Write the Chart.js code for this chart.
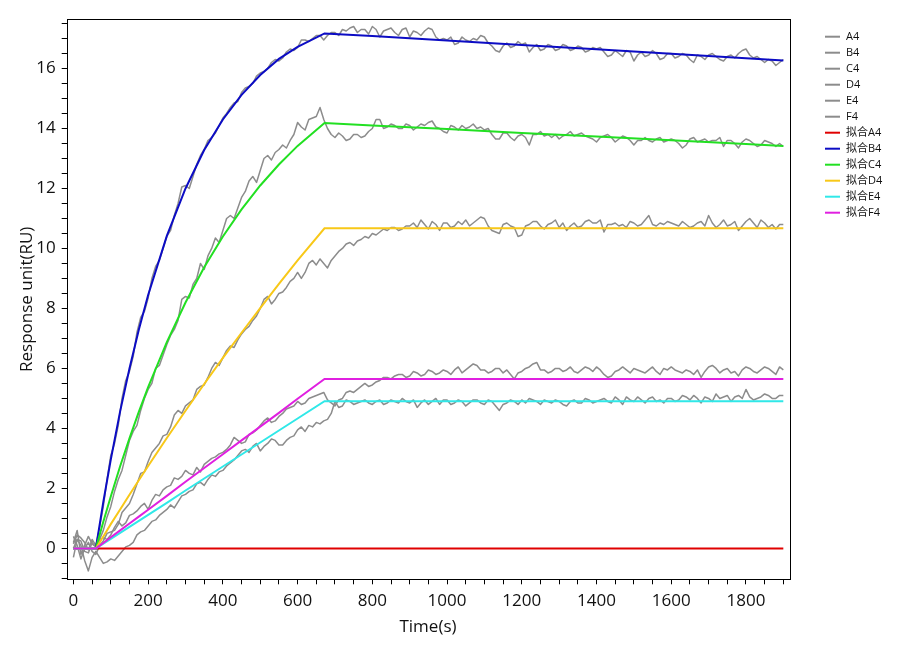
<!DOCTYPE html>
<html>
<head>
<meta charset="utf-8">
<script src="https://cdn.jsdelivr.net/npm/chart.js@4.4.1/dist/chart.umd.min.js"></script>
<style>
  html, body { margin: 0; padding: 0; background: #fff; }
  #wrap { width: 900px; height: 650px; }
</style>
</head>
<body>
<div id="wrap"><canvas id="sensorChart" width="900" height="650"></canvas></div>
<script>
// sampling times of the recorded curves (s), one row per 100 s
var timeData = [0, 10, 20, 30, 40, 50, 60, 70, 80, 90,
  100, 110, 120, 130, 140, 150, 160, 170, 180, 190,
  200, 210, 220, 230, 240, 250, 260, 270, 280, 290,
  300, 310, 320, 330, 340, 350, 360, 370, 380, 390,
  400, 410, 420, 430, 440, 450, 460, 470, 480, 490,
  500, 510, 520, 530, 540, 550, 560, 570, 580, 590,
  600, 610, 620, 630, 640, 650, 660, 670, 680, 690,
  700, 710, 720, 730, 740, 750, 760, 770, 780, 790,
  800, 810, 820, 830, 840, 850, 860, 870, 880, 890,
  900, 910, 920, 930, 940, 950, 960, 970, 980, 990,
  1000, 1010, 1020, 1030, 1040, 1050, 1060, 1070, 1080, 1090,
  1100, 1110, 1120, 1130, 1140, 1150, 1160, 1170, 1180, 1190,
  1200, 1210, 1220, 1230, 1240, 1250, 1260, 1270, 1280, 1290,
  1300, 1310, 1320, 1330, 1340, 1350, 1360, 1370, 1380, 1390,
  1400, 1410, 1420, 1430, 1440, 1450, 1460, 1470, 1480, 1490,
  1500, 1510, 1520, 1530, 1540, 1550, 1560, 1570, 1580, 1590,
  1600, 1610, 1620, 1630, 1640, 1650, 1660, 1670, 1680, 1690,
  1700, 1710, 1720, 1730, 1740, 1750, 1760, 1770, 1780, 1790,
  1800, 1810, 1820, 1830, 1840, 1850, 1860, 1870, 1880, 1890,
  1900];

// recorded responses (RU)
var seriesA4 = [];
var seriesB4 = [0.15, 0.45, 0.35, 0.2, -0.05, 0.3, 0.1, 0.7, 1.4, 2.3,
  3.1, 3.5, 4.1, 5.0, 5.6, 5.9, 6.4, 7.2, 7.7, 7.9,
  8.35, 9.0, 9.4, 9.6, 10.0, 10.4, 10.6, 11.1, 11.5, 12.05,
  12.1, 12.0, 12.4, 12.8, 13.1, 13.3, 13.6, 13.7, 13.85, 14.1,
  14.35, 14.5, 14.7, 14.85, 14.9, 15.2, 15.35, 15.4, 15.5, 15.75,
  15.85, 15.9, 16.0, 16.2, 16.3, 16.25, 16.35, 16.55, 16.65, 16.6,
  16.7, 16.95, 16.95, 16.9, 17.0, 17.1, 17.1, 16.95, 17.1, 17.2,
  17.2, 17.1, 17.3, 17.25, 17.35, 17.4, 17.2, 17.3, 17.3, 17.15,
  17.4, 17.3, 17.05, 17.25, 17.3, 17.35, 17.2, 17.1, 17.3, 17.35,
  17.05, 17.25, 17.2, 17.1, 17.25, 17.35, 17.3, 17.05, 16.95, 17.0,
  16.95, 17.05, 16.8, 16.85, 17.05, 16.95, 16.9, 17.0, 16.95, 17.1,
  17.05, 16.85, 16.75, 16.6, 16.55, 16.75, 16.85, 16.7, 16.75, 16.9,
  16.8, 16.85, 16.55, 16.7, 16.8, 16.6, 16.65, 16.8, 16.75, 16.6,
  16.65, 16.8, 16.75, 16.6, 16.65, 16.75, 16.7, 16.55, 16.6, 16.7,
  16.65, 16.7, 16.55, 16.4, 16.45, 16.6, 16.5, 16.4, 16.6, 16.55,
  16.25, 16.45, 16.55, 16.4, 16.45, 16.6, 16.5, 16.3, 16.35, 16.5,
  16.5, 16.35, 16.4, 16.5, 16.45, 16.3, 16.2, 16.45, 16.4, 16.3,
  16.45, 16.5, 16.4, 16.3, 16.25, 16.4, 16.45, 16.35, 16.5, 16.6,
  16.65, 16.45, 16.35, 16.4, 16.3, 16.2, 16.3, 16.25, 16.1, 16.2,
  16.3];
var seriesC4 = [0, 0.3, 0.25, -0.1, -0.15, 0.2, 0.05, 0.3, 0.6, 1.05,
  1.4, 1.9, 2.3, 2.6, 3.1, 3.6, 3.9, 4.1, 4.6, 5.0,
  5.3, 5.5, 6.0, 6.1, 6.45, 6.8, 7.1, 7.3, 7.6, 8.3,
  8.4, 8.35, 8.8, 9.0, 9.5, 9.3, 9.75, 10.0, 10.35, 10.2,
  10.6, 11.0, 11.1, 11.0, 11.35, 11.7, 11.9, 12.25, 12.4, 12.2,
  12.6, 13.0, 13.1, 12.95, 13.2, 13.3, 13.45, 13.35, 13.6, 13.8,
  14.2, 14.05, 13.95, 14.3, 14.35, 14.4, 14.7, 14.3, 14.0, 13.8,
  13.7, 13.85, 13.75, 13.6, 13.65, 13.8, 13.8, 13.7, 13.75, 13.9,
  14.0, 14.3, 14.3, 14.0, 14.05, 14.15, 14.1, 14.0, 14.0, 14.15,
  14.1, 13.95, 14.05, 14.15, 14.1, 14.2, 14.25, 14.05, 14.0, 13.9,
  13.85, 14.1, 14.05, 13.95, 14.1, 14.0, 14.05, 14.15, 14.0, 14.05,
  13.95, 14.0, 13.8, 13.65, 13.65, 13.85, 13.85, 13.7, 13.6, 13.75,
  13.8, 13.7, 13.45, 13.8, 13.8, 13.9, 13.75, 13.8, 13.7, 13.8,
  13.65, 13.75, 13.8, 13.9, 13.75, 13.8, 13.85, 13.75, 13.7, 13.65,
  13.55, 13.7, 13.75, 13.8, 13.7, 13.55, 13.65, 13.75, 13.7, 13.6,
  13.45, 13.6, 13.6, 13.7, 13.6, 13.55, 13.65, 13.7, 13.55, 13.6,
  13.65, 13.6, 13.5, 13.35, 13.45, 13.65, 13.7, 13.55, 13.6, 13.65,
  13.55, 13.6, 13.6, 13.7, 13.4, 13.6, 13.6, 13.5, 13.35, 13.55,
  13.65, 13.6, 13.5, 13.4, 13.45, 13.6, 13.55, 13.5, 13.4, 13.5,
  13.4];
var seriesD4 = [0.4, 0.1, -0.35, 0.0, 0.2, -0.1, -0.2, 0.1, 0.25, 0.5,
  0.55, 0.6, 0.8, 1.2, 1.35, 1.5, 1.8, 2.15, 2.5, 2.55,
  2.9, 3.2, 3.35, 3.5, 3.75, 3.8, 4.05, 4.45, 4.6, 4.5,
  4.75, 4.85, 4.95, 5.3, 5.4, 5.45, 5.7, 6.0, 6.2, 6.1,
  6.35, 6.6, 6.75, 6.7, 6.95, 7.15, 7.3, 7.4, 7.6, 7.75,
  8.0, 8.3, 8.4, 8.15, 8.3, 8.5, 8.55, 8.7, 8.9, 9.0,
  9.2, 9.0, 9.2, 9.5, 9.6, 9.45, 9.65, 9.5, 9.35, 9.6,
  9.75, 9.9, 10.0, 10.15, 10.2, 10.1, 10.25, 10.3, 10.4, 10.35,
  10.5, 10.45, 10.55, 10.65, 10.6, 10.7, 10.7, 10.6, 10.65, 10.75,
  10.75, 10.85, 10.7, 10.95, 10.8, 10.65, 10.9, 10.8, 10.6, 10.85,
  10.85, 10.7, 10.75, 10.9, 10.8, 10.95, 10.75, 10.85, 10.95, 11.05,
  11.0, 10.75, 10.6, 10.55, 10.5, 10.8, 10.85, 10.75, 10.7, 10.4,
  10.45, 10.75, 10.8, 10.9, 10.9, 10.75, 10.65, 10.8, 10.85, 10.95,
  10.7, 10.85, 10.6, 10.75, 10.85, 10.7, 10.75, 10.9, 10.95, 10.85,
  10.85, 10.95, 10.55, 10.8, 10.8, 10.85, 10.75, 10.8, 10.7, 10.9,
  10.85, 10.75, 10.8, 10.95, 11.1, 10.8, 10.75, 10.85, 10.8, 10.9,
  10.85, 10.8, 10.75, 10.9, 10.8, 10.7, 10.75, 10.85, 10.9, 10.75,
  11.1, 10.85, 10.7, 10.8, 10.95, 10.75, 10.8, 10.9, 10.6, 10.75,
  10.9, 11.0, 10.85, 10.7, 10.95, 10.85, 10.7, 10.8, 10.65, 10.8,
  10.8];
var seriesE4 = [-0.3, 0.3, 0.1, -0.4, -0.75, -0.3, -0.1, -0.3, -0.5, -0.45,
  -0.35, -0.4, -0.25, -0.1, 0.05, 0.1, 0.2, 0.45, 0.55, 0.6,
  0.75, 0.9, 0.95, 1.1, 1.2, 1.3, 1.45, 1.35, 1.55, 1.75,
  1.8, 1.9, 1.95, 2.15, 2.2, 2.1, 2.3, 2.45, 2.4, 2.55,
  2.6, 2.75, 2.85, 2.95, 3.1, 3.25, 3.3, 3.2, 3.4, 3.5,
  3.25, 3.4, 3.5, 3.65, 3.6, 3.45, 3.45, 3.6, 3.7, 3.75,
  3.95, 4.05, 3.9, 4.1, 4.05, 4.2, 4.15, 4.25, 4.3, 4.5,
  4.9, 4.7, 4.75, 4.95, 4.9, 4.8, 4.85, 4.9, 4.95, 4.85,
  4.8, 4.9, 4.95, 4.8, 4.85, 4.95, 4.9, 4.85, 5.0, 4.9,
  4.85, 4.95, 4.7, 4.85, 4.95, 4.8, 4.9, 5.0, 4.8, 4.95,
  4.95, 4.8, 4.85, 4.95, 4.9, 4.75, 4.85, 4.95, 4.95, 4.85,
  4.8, 4.95, 4.9, 4.75, 4.6, 4.8, 4.85, 4.95, 4.9, 4.8,
  4.95, 4.85, 5.0, 4.95, 4.9, 4.8, 4.95, 4.9, 4.85, 4.95,
  4.9, 4.8, 4.75, 4.9, 4.95, 4.85, 4.85, 5.0, 4.95, 4.85,
  4.9, 4.95, 5.0, 4.9, 4.85, 5.05, 4.95, 4.8, 5.05, 4.95,
  4.9, 5.05, 4.95, 4.85, 5.0, 5.05, 4.9, 4.95, 4.85, 5.0,
  5.0, 4.9, 4.95, 5.1, 5.05, 4.95, 5.1, 5.0, 4.85, 5.05,
  5.0, 4.9, 5.15, 5.0, 5.05, 5.1, 4.9, 5.05, 5.1, 5.0,
  5.3, 5.05, 4.95, 5.0, 5.05, 5.15, 5.1, 5.0, 5.0, 5.1,
  5.1];
var seriesF4 = [0.2, 0.6, -0.2, 0.1, 0.4, 0.15, 0.05, 0.3, 0.35, 0.3,
  0.45, 0.7, 0.9, 0.75, 0.85, 1.1, 1.15, 1.25, 1.4, 1.5,
  1.3, 1.6, 1.8, 1.75, 1.95, 2.05, 2.1, 2.35, 2.3, 2.4,
  2.6, 2.5, 2.45, 2.7, 2.55, 2.8, 2.9, 3.0, 3.05, 3.15,
  3.2, 3.3, 3.45, 3.7, 3.6, 3.5, 3.55, 3.8, 3.85, 3.95,
  4.1, 4.25, 4.35, 4.2, 4.25, 4.4, 4.5, 4.65, 4.7, 4.75,
  4.9, 4.8, 4.85, 5.0, 5.05, 5.1, 5.15, 5.2, 4.95, 4.85,
  4.75, 4.95, 5.0, 5.2, 5.25, 5.2, 5.3, 5.4, 5.5, 5.4,
  5.45, 5.55, 5.6, 5.7, 5.7, 5.65, 5.75, 5.8, 5.8, 5.7,
  5.75, 5.9, 5.85, 5.75, 5.8, 5.95, 5.9, 5.8, 5.85, 5.95,
  5.9, 5.8, 5.95, 6.05, 5.85, 5.95, 6.05, 6.15, 6.1, 5.95,
  5.95, 5.85, 5.9, 6.0, 6.0, 5.85, 5.95, 5.8, 5.65, 5.85,
  5.9, 6.0, 6.05, 6.15, 6.2, 5.95, 5.95, 5.85, 5.9, 6.0,
  6.0, 5.9, 5.95, 6.05, 5.9, 5.85, 5.95, 6.05, 6.0, 5.9,
  6.05, 5.95, 5.8, 5.7, 5.75, 5.9, 5.95, 6.05, 5.95, 5.85,
  6.0, 5.95, 5.9, 5.85, 5.95, 6.05, 5.9, 5.8, 6.0, 5.95,
  6.05, 5.95, 5.9, 5.85, 5.95, 5.9, 5.8, 5.95, 5.7, 5.9,
  6.05, 6.1, 6.0, 5.85, 5.95, 6.0, 5.85, 5.9, 5.75, 5.95,
  6.05, 6.0, 5.9, 5.85, 5.95, 6.05, 6.0, 5.9, 5.8, 6.05,
  5.95];

// fitted curves (拟合)
var fitTime = [0, 60, 80, 100, 125, 150, 175, 200, 250, 300, 350, 400, 450, 500, 550, 600, 672,
  800, 1000, 1200, 1400, 1600, 1800, 1900];
var fitA4 = [0, 0, 0, 0, 0, 0, 0, 0, 0, 0, 0, 0, 0, 0, 0, 0, 0,
  0, 0, 0, 0, 0, 0, 0];
var fitB4 = [0, 0, 1.55, 2.96, 4.57, 6.0, 7.29, 8.45, 10.42, 12.0, 13.28, 14.3, 15.12, 15.78, 16.32, 16.72, 17.17,
  17.08, 16.93, 16.78, 16.64, 16.49, 16.34, 16.27];
var fitC4 = [0, 0, 0.89, 1.73, 2.74, 3.67, 4.55, 5.38, 6.88, 8.2, 9.37, 10.4, 11.3, 12.1, 12.8, 13.42, 14.18,
  14.1, 13.98, 13.85, 13.73, 13.61, 13.48, 13.42];
var fitD4 = [0, 0, 0.4, 0.81, 1.3, 1.79, 2.27, 2.75, 3.68, 4.59, 5.48, 6.35, 7.19, 8.01, 8.82, 9.6, 10.67,
  10.67, 10.67, 10.67, 10.67, 10.67, 10.67, 10.67];
var fitE4 = [0, 0, 0.16, 0.32, 0.52, 0.72, 0.92, 1.12, 1.52, 1.93, 2.33, 2.73, 3.13, 3.53, 3.93, 4.33, 4.91,
  4.91, 4.91, 4.91, 4.91, 4.91, 4.91, 4.91];
var fitF4 = [0, 0, 0.18, 0.37, 0.6, 0.83, 1.06, 1.29, 1.75, 2.22, 2.68, 3.14, 3.6, 4.06, 4.52, 4.99, 5.65,
  5.65, 5.65, 5.65, 5.65, 5.65, 5.65, 5.65];

var rawLabels = ['A4', 'B4', 'C4', 'D4', 'E4', 'F4'];
var fitLabels = ['拟合A4', '拟合B4', '拟合C4', '拟合D4', '拟合E4', '拟合F4'];

var FONT = '"Open Sans", "Noto Sans CJK SC", sans-serif';
var rawColor = '#8c8c8c';
var fitColors = ['#e00000', '#0c0cc4', '#22e022', '#f8c818', '#30e8e8', '#e020e0'];

function toPoints(xs, ys) {
  var pts = [];
  for (var i = 0; i < ys.length; i++) {
    pts.push({ x: xs[i], y: ys[i] });
  }
  return pts;
}

var rawSeries = [seriesA4, seriesB4, seriesC4, seriesD4, seriesE4, seriesF4];
var fitSeries = [fitA4, fitB4, fitC4, fitD4, fitE4, fitF4];
var datasets = [];

for (var r = 0; r < rawSeries.length; r++) {
  datasets.push({
    label: rawLabels[r],
    data: toPoints(timeData, rawSeries[r]),
    borderColor: rawColor,
    borderWidth: 1.5,
    borderJoinStyle: 'round',
    pointRadius: 0,
    tension: 0,
    order: 20
  });
}
for (var f = 0; f < fitSeries.length; f++) {
  datasets.push({
    label: fitLabels[f],
    data: toPoints(fitTime, fitSeries[f]),
    borderColor: fitColors[f],
    borderWidth: 2,
    pointRadius: 0,
    tension: 0,
    order: 6 - f   // later fits on top
  });
}

// legend on the right, axis titles and the frame box
var decorPlugin = {
  id: 'decor',
  afterDraw: function (chart) {
    var ctx = chart.ctx;
    var area = chart.chartArea;
    ctx.save();

    ctx.strokeStyle = '#000';
    ctx.lineWidth = 1;
    ctx.strokeRect(Math.round(area.left) + 0.5, Math.round(area.top) + 0.5,
      Math.round(area.right - area.left), Math.round(area.bottom - area.top));

    ctx.fillStyle = '#111';
    ctx.font = '17px ' + FONT;
    ctx.textAlign = 'center';
    ctx.textBaseline = 'middle';
    ctx.fillText('Time(s)', (area.left + area.right) / 2, 627);

    ctx.save();
    ctx.translate(27, (area.top + area.bottom) / 2);
    ctx.rotate(-Math.PI / 2);
    ctx.fillText('Response unit(RU)', 0, 0);
    ctx.restore();

    ctx.font = '11px ' + FONT;
    ctx.textAlign = 'left';
    chart.data.datasets.forEach(function (ds, i) {
      var y = 36.7 + i * 16;
      ctx.strokeStyle = ds.borderColor;
      ctx.lineWidth = 2;
      ctx.beginPath();
      ctx.moveTo(825, y);
      ctx.lineTo(840, y);
      ctx.stroke();
      ctx.fillStyle = '#111';
      ctx.fillText(ds.label, 846, y);
    });
    ctx.restore();
  }
};

Chart.defaults.font.family = FONT;

var chartElement = document.getElementById('sensorChart').getContext('2d');
var sensorChart = new Chart(chartElement, {
  type: 'line',
  data: { datasets: datasets },
  options: {
    responsive: false,
    animation: false,
    devicePixelRatio: 1,
    layout: { padding: { top: 19.3, right: 110.7, bottom: 0, left: 0 } },
    plugins: {
      legend: { display: false },
      tooltip: { enabled: false }
    },
    scales: {
      x: {
        type: 'linear',
        min: -18,
        max: 1916,
        afterFit: function (scale) { scale.height = 70.7; },
        border: { display: false },
        grid: { display: true, drawOnChartArea: false, drawTicks: true, tickLength: 5, color: '#000' },
        ticks: {
          stepSize: 50,
          autoSkip: false,
          includeBounds: false,
          maxRotation: 0,
          padding: 7,
          color: '#111',
          font: { size: 17 },
          callback: function (v) { return v % 200 === 0 ? String(v) : ''; }
        }
      },
      y: {
        type: 'linear',
        min: -1.03,
        max: 17.64,
        afterFit: function (scale) { scale.width = 66.7; },
        border: { display: false },
        grid: { display: true, drawOnChartArea: false, drawTicks: true, tickLength: 5, color: '#000' },
        ticks: {
          stepSize: 0.5,
          autoSkip: false,
          includeBounds: false,
          padding: 6,
          color: '#111',
          font: { size: 17 },
          callback: function (v) { return Math.abs(v % 2) < 1e-9 ? String(v) : ''; }
        }
      }
    }
  },
  plugins: [decorPlugin]
});
</script>
</body>
</html>
